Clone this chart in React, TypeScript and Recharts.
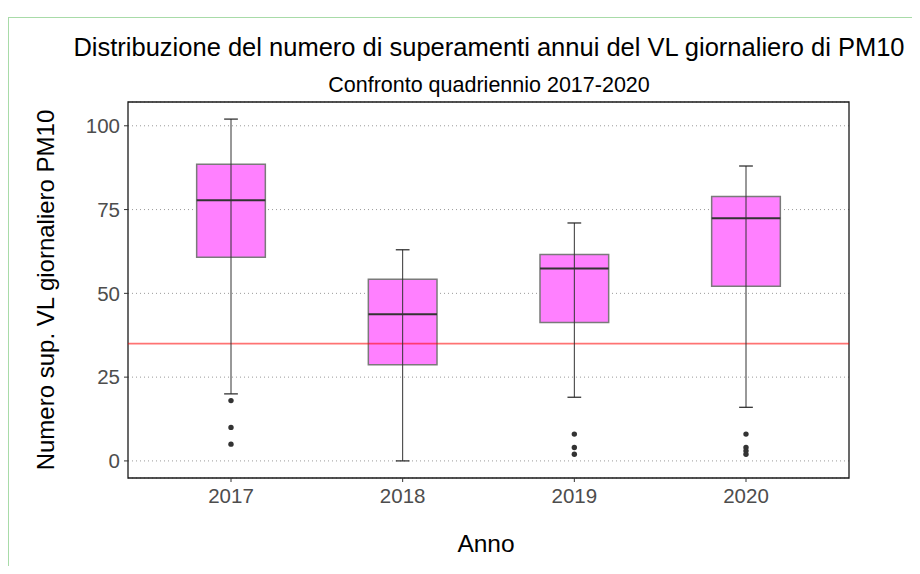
import React from 'react';
import {
  ComposedChart,
  XAxis,
  YAxis,
  CartesianGrid,
  ReferenceArea,
  ReferenceLine,
  Scatter,
} from 'recharts';

const years = ['2017', '2018', '2019', '2020'];
const lowerWhisker = [20, 0, 19, 16];
const q1Values = [60.8, 28.7, 41.3, 52.1];
const medianValues = [77.8, 43.8, 57.4, 72.4];
const q3Values = [88.5, 54.2, 61.6, 78.9];
const upperWhisker = [102, 63, 71, 88];
const outliersByYear = [[18, 10, 5], [], [8, 4, 2], [8, 4, 3, 2]];
const limitValue = 35;
const yTicks = [0, 25, 50, 75, 100];
const xTicks = [1, 2, 3, 4];

const FONT = '"Liberation Sans", Arial, Helvetica, sans-serif';
const BOX_HALF = 0.2;
const CAP_HALF = 0.04;

const outlierPoints = outliersByYear.flatMap((vals, i) =>
  vals.map((v) => ({ x: i + 1, y: v }))
);

const OutlierDot = (props: any) => (
  <circle cx={props.cx} cy={props.cy} r={2.7} fill="#333333" />
);

export default function App() {
  return (
    <div
      style={{
        position: 'relative',
        width: 920,
        height: 574,
        margin: -8,
        overflow: 'hidden',
        background: '#ffffff',
      }}
    >
      <div
        style={{
          position: 'absolute',
          left: 8,
          top: 17,
          width: 2000,
          height: 2000,
          border: '1px solid #a8dba8',
        }}
      />
      <div style={{ position: 'absolute', left: 0, top: 0 }}>
        <ComposedChart
          width={920}
          height={574}
          margin={{ top: 102, right: 71, bottom: 36, left: 0 }}
        >
          <CartesianGrid
            vertical={false}
            stroke="#9a9a9a"
            strokeDasharray="1 3"
          />
          <XAxis
            type="number"
            dataKey="x"
            domain={[0.4, 4.6]}
            ticks={xTicks}
            allowDataOverflow
            tickFormatter={(v: number) => years[v - 1]}
            axisLine={false}
            tickLine={{ stroke: '#333333' }}
            tickSize={4}
            tickMargin={6}
            height={60}
            tick={{ fill: '#4d4d4d', fontSize: 20.5, fontFamily: FONT }}
          />
          <YAxis
            type="number"
            domain={[-5.1, 107.1]}
            ticks={yTicks}
            allowDataOverflow
            axisLine={false}
            tickLine={{ stroke: '#333333' }}
            tickSize={4}
            tickMargin={4}
            width={128}
            tick={{ fill: '#4d4d4d', fontSize: 20.5, fontFamily: FONT }}
          />
          {years.map((y, i) => (
            <ReferenceArea
              key={'box' + y}
              x1={i + 1 - BOX_HALF}
              x2={i + 1 + BOX_HALF}
              y1={q1Values[i]}
              y2={q3Values[i]}
              fill="#ff80ff"
              fillOpacity={1}
              stroke="#7a7a7a"
              strokeWidth={1.5}
            />
          ))}
          <ReferenceLine
            y={limitValue}
            stroke="#ff0000"
            strokeOpacity={0.55}
            strokeWidth={1.6}
          />
          {years.map((y, i) => (
            <ReferenceLine
              key={'med' + y}
              segment={[
                { x: i + 1 - BOX_HALF, y: medianValues[i] },
                { x: i + 1 + BOX_HALF, y: medianValues[i] },
              ]}
              stroke="#333333"
              strokeWidth={2}
            />
          ))}
          {years.map((y, i) => (
            <ReferenceLine
              key={'wh' + y}
              segment={[
                { x: i + 1, y: lowerWhisker[i] },
                { x: i + 1, y: upperWhisker[i] },
              ]}
              stroke="#333333"
              strokeWidth={1}
            />
          ))}
          {years.map((y, i) => (
            <ReferenceLine
              key={'capHi' + y}
              segment={[
                { x: i + 1 - CAP_HALF, y: upperWhisker[i] },
                { x: i + 1 + CAP_HALF, y: upperWhisker[i] },
              ]}
              stroke="#222222"
              strokeWidth={1.2}
            />
          ))}
          {years.map((y, i) => (
            <ReferenceLine
              key={'capLo' + y}
              segment={[
                { x: i + 1 - CAP_HALF, y: lowerWhisker[i] },
                { x: i + 1 + CAP_HALF, y: lowerWhisker[i] },
              ]}
              stroke="#222222"
              strokeWidth={1.2}
            />
          ))}
          <Scatter
            data={outlierPoints}
            dataKey="y"
            shape={OutlierDot}
            isAnimationActive={false}
          />
          <ReferenceArea
            x1={0.4}
            x2={4.6}
            y1={-5.1}
            y2={107.1}
            fill="none"
            stroke="#1a1a1a"
            strokeWidth={1.3}
          />
        </ComposedChart>
      </div>
      <svg
        width={920}
        height={574}
        style={{ position: 'absolute', left: 0, top: 0, pointerEvents: 'none' }}
      >
        <text
          x={489}
          y={56}
          textAnchor="middle"
          fontFamily={FONT}
          fontSize={25.5}
          fill="#000000"
        >
          Distribuzione del numero di superamenti annui del VL giornaliero di PM10
        </text>
        <text
          x={489}
          y={92}
          textAnchor="middle"
          fontFamily={FONT}
          fontSize={21.5}
          fill="#000000"
        >
          Confronto quadriennio 2017-2020
        </text>
        <text
          x={486}
          y={552}
          textAnchor="middle"
          fontFamily={FONT}
          fontSize={24.5}
          fill="#000000"
        >
          Anno
        </text>
        <text
          x={0}
          y={0}
          transform="translate(53.5,290) rotate(-90)"
          textAnchor="middle"
          fontFamily={FONT}
          fontSize={24}
          fill="#000000"
        >
          Numero sup. VL giornaliero PM10
        </text>
      </svg>
    </div>
  );
}
